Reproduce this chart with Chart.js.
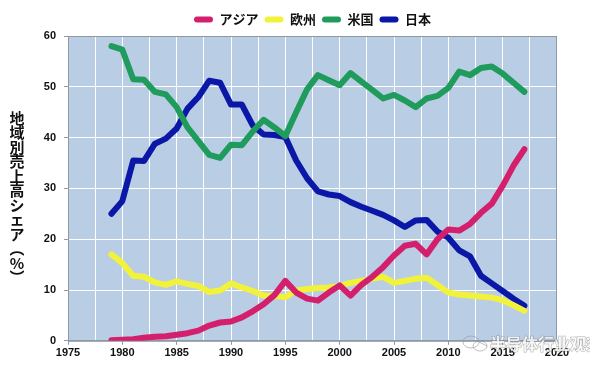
<!DOCTYPE html>
<html>
<head>
<meta charset="utf-8">
<script src="https://cdn.jsdelivr.net/npm/chart.js@4.4.1/dist/chart.umd.min.js"></script>
<style>
  html, body { margin: 0; padding: 0; background: #fff; }
  #wrap { width: 590px; height: 372px; position: relative; }
</style>
</head>
<body>
<div id="wrap"><canvas id="c"></canvas></div>
<script>
// years 1979 - 2017
const years = [1979,1980,1981,1982,1983,1984,1985,1986,1987,1988,1989,1990,1991,1992,1993,1994,1995,1996,1997,1998,1999,2000,2001,2002,2003,2004,2005,2006,2007,2008,2009,2010,2011,2012,2013,2014,2015,2016,2017];

const asia   = [0.1,0.2,0.3,0.6,0.8,0.9,1.2,1.5,2.0,3.0,3.6,3.8,4.6,5.8,7.2,9.0,11.8,9.5,8.3,7.9,9.5,10.9,8.9,11.0,12.6,14.5,16.8,18.7,19.1,17.0,20.0,21.9,21.7,23.0,25.2,27.0,30.5,34.5,37.7];
const europe = [17.0,15.3,12.8,12.6,11.5,11.0,11.7,11.2,10.8,9.6,9.9,11.3,10.5,9.8,8.9,8.8,8.6,9.9,10.2,10.4,10.5,10.8,11.4,11.8,12.2,12.6,11.4,11.8,12.2,12.4,11.0,9.5,9.1,8.9,8.7,8.5,8.0,7.0,5.9];
const usa    = [58.0,57.3,51.5,51.4,49.0,48.5,46.0,42.0,39.3,36.6,36.0,38.6,38.5,41.2,43.5,42.0,40.3,45.0,49.5,52.3,51.3,50.3,52.7,51.0,49.4,47.7,48.4,47.3,46.0,47.7,48.2,49.8,53.0,52.3,53.7,54.0,52.6,50.8,49.0];
const japan  = [25.0,27.5,35.5,35.4,38.8,39.8,41.8,45.7,48.0,51.2,50.8,46.5,46.5,42.4,40.6,40.5,40.1,35.5,32.0,29.4,28.8,28.5,27.3,26.4,25.6,24.8,23.7,22.4,23.7,23.8,21.5,20.3,17.8,16.6,12.8,11.3,9.8,8.3,6.9];

const seriesNames = ['アジア', '欧州', '米国', '日本'];
const seriesColors = ['#d41f6c', '#f2f23a', '#1f9b5c', '#0b17a6'];

const yTitle = ['地','域','別','売','上','高','シ','ェ','ア','︵','%','︶'];
const watermark = '半导体行业观察';

const pts = arr => arr.map((v, i) => ({x: years[i], y: v}));

// plot background + border
const plotBox = {
  id: 'plotBox',
  beforeDraw(chart) {
    const {ctx, chartArea: a} = chart;
    ctx.save();
    ctx.fillStyle = '#b9cde4';
    ctx.fillRect(a.left, a.top, a.right - a.left, a.bottom - a.top);
    ctx.restore();
  },
  beforeDatasetsDraw(chart) {
    const {ctx, chartArea: a} = chart;
    ctx.save();
    ctx.strokeStyle = '#8f99a6';
    ctx.lineWidth = 1;
    ctx.strokeRect(a.left + 0.5, a.top + 0.5, a.right - a.left - 1, a.bottom - a.top);
    ctx.restore();
  }
};

// vertical (upright) y-axis title and the watermark
const extras = {
  id: 'extras',
  afterDraw(chart) {
    const {ctx} = chart;
    ctx.save();
    ctx.fillStyle = '#111';
    ctx.font = 'bold 15px "Noto Sans CJK JP"';
    ctx.textAlign = 'center';
    ctx.textBaseline = 'middle';
    yTitle.forEach((ch, i) => {
      ctx.fillText(ch, 17, 118 + i * 14.5);
    });

    // watermark
    ctx.font = 'bold 16px "Noto Sans CJK SC"';
    ctx.textAlign = 'left';
    ctx.lineWidth = 1;
    ctx.strokeStyle = 'rgba(110,110,110,0.55)';
    ctx.fillStyle = 'rgba(255,255,255,0.8)';
    ctx.strokeText(watermark, 490, 344);
    ctx.fillText(watermark, 490, 344);
    ctx.beginPath();
    ctx.ellipse(471, 342, 8, 6, 0, 0, Math.PI * 2);
    ctx.ellipse(480, 346, 7, 5, 0, 0, Math.PI * 2);
    ctx.strokeStyle = 'rgba(150,150,150,0.6)';
    ctx.stroke();
    ctx.restore();
  }
};

new Chart(document.getElementById('c'), {
  type: 'line',
  data: {
    datasets: seriesNames.map((name, i) => ({
      label: name,
      data: pts([asia, europe, usa, japan][i]),
      borderColor: seriesColors[i],
      backgroundColor: seriesColors[i],
      borderWidth: 6,
      pointRadius: 0,
      tension: 0,
      borderCapStyle: 'round',
      borderJoinStyle: 'round'
    }))
  },
  options: {
    responsive: true,
    maintainAspectRatio: false,
    animation: false,
    layout: { padding: { left: 30, right: 33, top: 7, bottom: 10 } },
    plugins: {
      legend: {
        position: 'top',
        fullSize: false,
        labels: {
          color: '#111',
          font: { family: '"Noto Sans CJK JP"', size: 13, weight: 'bold' },
          boxWidth: 19,
          boxHeight: 6,
          useBorderRadius: true,
          borderRadius: 3,
          padding: 6,
          generateLabels: chart => Chart.defaults.plugins.legend.labels.generateLabels(chart)
            .map(l => Object.assign(l, { lineWidth: 1, strokeStyle: 'rgba(0,0,0,0)' }))
        }
      },
      tooltip: { enabled: false }
    },
    scales: {
      x: {
        type: 'linear',
        min: 1975,
        max: 2020,
        grid: {
          color: '#ffffff',
          lineWidth: 1,
          tickLength: 4,
          tickColor: c => (c.tick && c.tick.value % 5 === 0) ? '#8f99a6' : 'rgba(0,0,0,0)'
        },
        border: { color: '#8f99a6' },
        ticks: {
          stepSize: 2.5,
          autoSkip: false,
          maxRotation: 0,
          padding: 2,
          color: '#111',
          font: { family: '"Liberation Sans"', size: 11, weight: 'bold' },
          callback: v => (v % 5 === 0 ? String(v) : '')
        }
      },
      y: {
        min: 0,
        max: 60,
        afterFit: s => { s.width = 38; },
        grid: { color: '#ffffff', lineWidth: 1, tickLength: 4, tickColor: '#8f99a6' },
        border: { color: '#8f99a6' },
        ticks: {
          stepSize: 10,
          padding: 8,
          color: '#111',
          font: { family: '"Liberation Sans"', size: 11, weight: 'bold' }
        }
      }
    }
  },
  plugins: [plotBox, extras]
});
</script>
</body>
</html>
